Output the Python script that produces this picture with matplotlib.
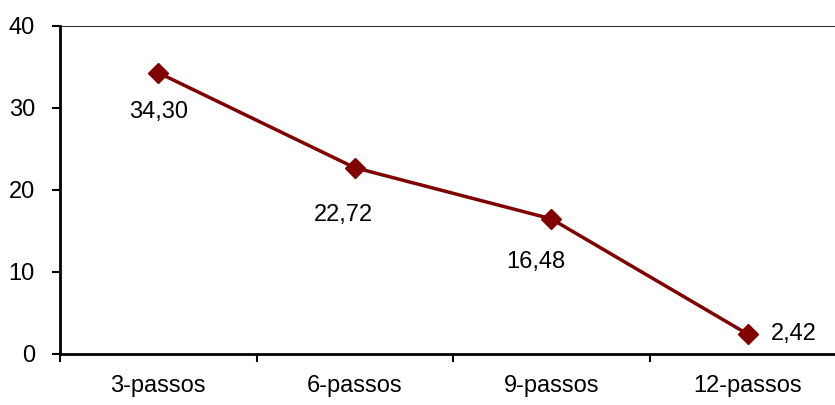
import matplotlib
matplotlib.use("Agg")
import matplotlib.pyplot as plt

categories = ["3-passos", "6-passos", "9-passos", "12-passos"]
values = [34.30, 22.72, 16.48, 2.42]
value_labels = ["34,30", "22,72", "16,48", "2,42"]

plt.rcParams["font.family"] = ["Liberation Sans", "DejaVu Sans"]
fs = 17

fig = plt.figure(figsize=(8.35, 4.05), dpi=100)
ax = fig.add_axes([60 / 835, 51 / 405, 786 / 835, 328 / 405])

x = list(range(len(categories)))
ax.plot(x, values, color="#800000", linewidth=2.5, marker="D", markersize=10,
        markerfacecolor="#800000", markeredgecolor="#800000", clip_on=False, zorder=3)

# data labels, placed as in the reference
offsets = [(0, -28, "center"), (-8, -34, "center"), (-11, -31, "center"), (17, 0, "left")]
for xi, v, lab, (dx, dy, ha) in zip(x, values, value_labels, offsets):
    ax.annotate(lab, (xi, v), xytext=(dx, dy), textcoords="offset points",
                ha=ha, va="center", fontsize=fs)

ax.set_xlim(-0.5, 3.5)
ax.set_ylim(0, 40)
ax.set_yticks([0, 10, 20, 30, 40])
ax.set_xticks(x)
ax.set_xticklabels(categories)
ax.set_xticks([-0.5, 0.5, 1.5, 2.5, 3.5], minor=True)
ax.tick_params(axis="x", which="major", length=0, pad=15, labelsize=fs)
ax.tick_params(axis="x", which="minor", length=6, width=1.5, direction="out")
ax.tick_params(axis="y", length=6, width=1.5, direction="out", pad=12, labelsize=fs)

ax.axhline(40, color="black", linewidth=1.2, zorder=1)
for side in ["top", "right"]:
    ax.spines[side].set_visible(False)
ax.spines["left"].set_linewidth(2)
ax.spines["bottom"].set_linewidth(2)

fig.savefig("out.png", dpi=100)
